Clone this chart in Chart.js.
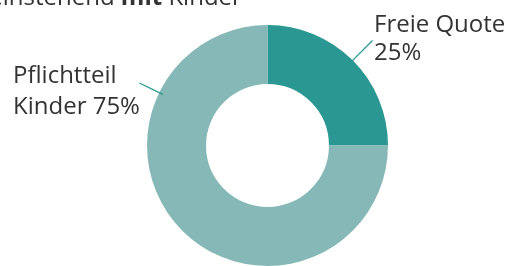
<!DOCTYPE html>
<html><head><meta charset="utf-8">
<script src="https://cdn.jsdelivr.net/npm/chart.js@4"></script>
<style>
html,body{margin:0;padding:0;background:#fff;overflow:hidden;}
#wrap{position:relative;width:517px;height:266px;}
canvas{position:absolute;left:0;top:0;}
.t{position:absolute;font-family:"Open Sans",sans-serif;font-size:24px;color:#333;line-height:28px;white-space:nowrap;}
</style></head>
<body>
<div id="wrap">
<canvas id="c" width="517" height="266"></canvas>
<div class="t" id="title" style="left:-38px;top:-18px;">Alleinstehend <b>mit</b> Kinder</div>
<div class="t" id="l0" style="left:374px;top:9px;"></div>
<div class="t" id="l1" style="left:13px;top:58px;line-height:31px;"></div>
</div>
<script>
const categories = ["Freie Quote", "Pflichtteil Kinder"];
const labelLines = [["Freie Quote"], ["Pflichtteil", "Kinder"]];
const values = [25, 75];
const colors = ["#2a9792", "#86b8b8"];

document.getElementById('l0').innerHTML = labelLines[0].join('<br>') + '<br>' + values[0] + '%';
document.getElementById('l1').innerHTML = labelLines[1][0] + '<br>' + labelLines[1][1] + ' ' + values[1] + '%';

const leaderPlugin = {
  id: 'leaders',
  afterDatasetsDraw(chart, args, opts) {
    const meta = chart.getDatasetMeta(0);
    const ctx = chart.ctx;
    ctx.save();
    ctx.strokeStyle = opts.color;
    ctx.lineWidth = 1.3;
    meta.data.forEach((arc, i) => {
      const a = opts.angles[i] * Math.PI / 180;
      const r0 = arc.outerRadius - 4, r1 = arc.outerRadius + opts.length[i];
      ctx.beginPath();
      ctx.moveTo(arc.x + Math.cos(a) * r0, arc.y + Math.sin(a) * r0);
      ctx.lineTo(arc.x + Math.cos(a) * r1, arc.y + Math.sin(a) * r1);
      ctx.stroke();
    });
    ctx.restore();
  }
};

new Chart(document.getElementById('c'), {
  type: 'doughnut',
  data: { labels: categories, datasets: [{ data: values, backgroundColor: colors, borderWidth: 0 }] },
  options: {
    responsive: false, animation: false, cutout: '51%',
    layout: { padding: { top: 25, bottom: 0, left: 18, right: 0 } },
    plugins: { legend: { display: false }, tooltip: { enabled: false }, title: { display: false },
      leaders: { color: "#2a9792", angles: [-45, -154], length: [28, 22] } }
  },
  plugins: [leaderPlugin]
});
</script>
</body></html>
